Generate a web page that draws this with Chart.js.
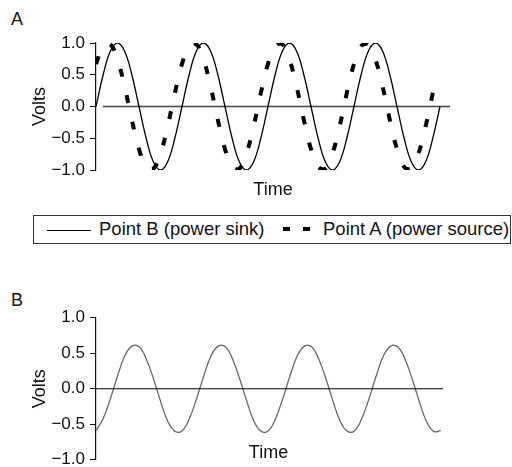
<!DOCTYPE html>
<html>
<head>
<meta charset="utf-8">
<script src="https://cdn.jsdelivr.net/npm/chart.js@4.4.1/dist/chart.umd.min.js"></script>
<style>
  html, body { margin: 0; padding: 0; background: #fff; overflow: hidden; }
  body { width: 512px; height: 467px; position: relative; font-family: "Liberation Sans", Arial, sans-serif; color: #111; }
  canvas { position: absolute; left: 0; }
  #chartA { top: 0; }
  #chartB { top: 260px; }
  .letter { position: absolute; left: 11px; font-size: 18px; line-height: 20px; }
  .legend { position: absolute; left: 33px; top: 215px; width: 476px; height: 27px; border: 1px solid #333; font-size: 18.5px; }
  .legend span { position: absolute; }
  .lbl { top: 3px; line-height: 20px; white-space: nowrap; }
  .solid { left: 13px; top: 14px; width: 44px; height: 0; border-top: 1px solid #000; }
  .dash { top: 11px; width: 7px; height: 4px; background: #000; }
  .timeB { position: absolute; left: 218px; width: 101px; top: 442px; text-align: center; font-size: 18px; line-height: 20px; }
</style>
</head>
<body>
<div class="letter" style="top:9px">A</div>
<canvas id="chartA" width="512" height="205"></canvas>
<div class="legend">
  <span class="solid"></span>
  <span class="lbl" style="left:65px">Point B (power sink)</span>
  <span class="dash" style="left:249px"></span>
  <span class="dash" style="left:269px"></span>
  <span class="lbl" style="left:289px">Point A (power source)</span>
</div>
<div class="letter" style="top:290px">B</div>
<canvas id="chartB" width="512" height="215"></canvas>
<div class="timeB">Time</div>
<script>
// time axis in steps of 1/12 of a cycle
const timeA = [0, 1, 2, 3, 4, 5, 6, 7, 8, 9, 10, 11, 12, 13, 14, 15, 16, 17, 18, 19, 20, 21, 22, 23, 24,
  25, 26, 27, 28, 29, 30, 31, 32, 33, 34, 35, 36, 37, 38, 39, 40, 41, 42, 43, 44, 45, 46, 47, 48];
// Point B (power sink)
const sinkA = [0, 0.5, 0.87, 1, 0.87, 0.5, 0, -0.5, -0.87, -1, -0.87, -0.5,
  0, 0.5, 0.87, 1, 0.87, 0.5, 0, -0.5, -0.87, -1, -0.87, -0.5,
  0, 0.5, 0.87, 1, 0.87, 0.5, 0, -0.5, -0.87, -1, -0.87, -0.5,
  0, 0.5, 0.87, 1, 0.87, 0.5, 0, -0.5, -0.87, -1, -0.87, -0.5, 0];
// Point A (power source), runs a little ahead of point B
const sourceTime = [0, 1, 2, 3, 4, 5, 6, 7, 8, 9, 10, 11, 12, 13, 14, 15, 16, 17, 18, 19, 20, 21, 22, 23, 24,
  25, 26, 27, 28, 29, 30, 31, 32, 33, 34, 35, 36, 37, 38, 39, 40, 41, 42, 43, 44, 45, 46, 47, 47.5];
const sourceA = [0.67, 0.95, 0.98, 0.74, 0.31, -0.21, -0.67, -0.95, -0.98, -0.74, -0.31, 0.21,
  0.67, 0.95, 0.98, 0.74, 0.31, -0.21, -0.67, -0.95, -0.98, -0.74, -0.31, 0.21,
  0.67, 0.95, 0.98, 0.74, 0.31, -0.21, -0.67, -0.95, -0.98, -0.74, -0.31, 0.21,
  0.67, 0.95, 0.98, 0.74, 0.31, -0.21, -0.67, -0.95, -0.98, -0.74, -0.31, 0.21, 0.45];

const timeB = timeA;
const valuesB = [-0.59, -0.42, -0.14, 0.18, 0.46, 0.6, 0.59, 0.42, 0.14, -0.18, -0.46, -0.6,
  -0.59, -0.42, -0.14, 0.18, 0.46, 0.6, 0.59, 0.42, 0.14, -0.18, -0.46, -0.6,
  -0.59, -0.42, -0.14, 0.18, 0.46, 0.6, 0.59, 0.42, 0.14, -0.18, -0.46, -0.6,
  -0.59, -0.42, -0.14, 0.18, 0.46, 0.6, 0.59, 0.42, 0.14, -0.18, -0.46, -0.6, -0.59];

const voltTicks = [-1, -0.5, 0, 0.5, 1];
const zeroLineA = [0.95, 49.4];
const zeroLineB = [0, 48.3];

const pts = (xs, ys) => xs.map((x, i) => ({ x: x, y: ys[i] }));
const FONT = "'Liberation Sans', Arial, sans-serif";

function yAxis() {
  return {
    min: -1, max: 1,
    afterFit: (s) => { s.width = 96; },
    afterBuildTicks: (s) => { s.ticks = voltTicks.map((v) => ({ value: v })); },
    grid: { drawOnChartArea: false, drawTicks: true, tickLength: 6, color: "#111", lineWidth: 1 },
    border: { display: true, color: "#111", width: 1.2 },
    ticks: {
      padding: 5, color: "#111", font: { family: FONT, size: 17 },
      callback: (v) => (Math.abs(v) < 1e-9 ? "0.0" : v.toFixed(1).replace("-", "\u2212")),
    },
    title: { display: true, text: "Volts", color: "#111", font: { family: FONT, size: 18 }, padding: { top: 29, bottom: 0 } },
  };
}

new Chart(document.getElementById("chartA"), {
  type: "line",
  data: {
    datasets: [
      { data: pts(timeA, sinkA), borderColor: "#000", borderWidth: 1.3, tension: 0.4, pointRadius: 0, order: 1 },
      { data: pts(sourceTime, sourceA), borderColor: "#000", borderWidth: 4, borderDash: [8, 19], tension: 0.4, pointRadius: 0, order: 0 },
      { data: pts(zeroLineA, [0, 0]), borderColor: "#444", borderWidth: 1.6, pointRadius: 0, order: 2 },
    ],
  },
  options: {
    responsive: false,
    animation: false,
    layout: { padding: { top: 43, right: 62, bottom: 4.2, left: 0 } },
    plugins: { legend: { display: false }, tooltip: { enabled: false } },
    scales: {
      x: {
        type: "linear", min: 0, max: 49.4,
        grid: { display: false, drawTicks: false, tickLength: 0 },
        border: { display: false },
        ticks: { display: false },
        title: { display: true, text: "Time", color: "#111", font: { family: FONT, size: 18 }, padding: { top: 9.2, bottom: 0 } },
      },
      y: yAxis(),
    },
  },
});

new Chart(document.getElementById("chartB"), {
  type: "line",
  data: {
    datasets: [
      { data: pts(timeB, valuesB), borderColor: "#666", borderWidth: 1.3, tension: 0.4, pointRadius: 0, order: 1 },
      { data: pts(zeroLineB, [0, 0]), borderColor: "#000", borderWidth: 1.2, pointRadius: 0, order: 0 },
    ],
  },
  options: {
    responsive: false,
    animation: false,
    layout: { padding: { top: 57.7, right: 69, bottom: 14, left: 0 } },
    plugins: { legend: { display: false }, tooltip: { enabled: false } },
    scales: {
      x: { type: "linear", min: 0, max: 48.3, display: false },
      y: yAxis(),
    },
  },
});
</script>
</body>
</html>
